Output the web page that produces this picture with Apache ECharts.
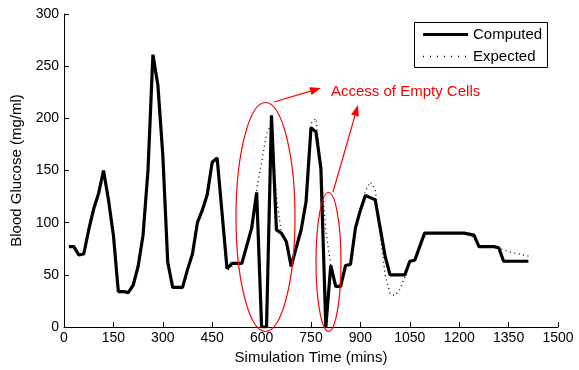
<!DOCTYPE html>
<html><head><meta charset="utf-8">
<script src="https://cdn.jsdelivr.net/npm/echarts@6/dist/echarts.min.js"></script>
<style>html,body{margin:0;padding:0;background:#fff}#c{width:579px;height:370px}</style>
</head><body><div id="c"></div>
<script>
const times = [15,30,45,60,75,90,105,120,135,150,165,180,195,210,225,240,255,270,285,300,
315,330,345,360,375,390,405,420,435,450,465,480,495,510,525,540,555,570,585,600,
615,630,645,660,675,690,705,720,735,750,765,780,795,810,825,840,855,870,885,900,
915,930,945,960,975,990,1005,1020,1035,1050,1065,1080,1095,1110,1125,1140,1155,1170,1185,1200,
1215,1230,1245,1260,1275,1290,1305,1320,1335,1350,1365,1380,1395,1410];
const computed = [77,77,69,70,93,113,128,150,122,88,34,34,33,40,58,88,150,261,232,165,
62,38,38,38,55,70,100,112,127,158,162,109,56,61,61,61,78,95,129,0,
0,203,93,90,82,58,76,93,120,191,187,152,0,59,39,39,59,60,95,112,
126,124,122,95,68,50,50,50,50,63,64,77,90,90,90,90,90,90,90,90,
90,89,88,77,77,77,77,76,63,63,63,63,63,63];
const expected = [77,77,69,70,93,113,128,150,122,88,34,34,33,40,58,88,150,261,232,165,
62,38,38,38,55,70,100,112,127,158,162,109,54,58,61,61,78,95,132,158,
185,195,125,90,82,58,76,93,120,195,200,155,92,60,40,39,59,60,95,112,
130,139,132,88,50,32,30,36,48,63,64,77,90,90,90,90,90,90,90,90,
90,88,86,77,77,77,77,76,74,72,71,70,69,68];
const seriesNames = ['Computed','Expected'];
const xTicks = {min:0, max:1500, interval:150};
const yTicks = {min:0, max:300, interval:50};

const font = 'Liberation Sans, Arial, sans-serif';
const chart = echarts.init(document.getElementById('c'), null, {renderer:'canvas'});

function arrow(x1,y1,x2,y2,len,hw){
  const dx=x2-x1, dy=y2-y1, L=Math.hypot(dx,dy), ux=dx/L, uy=dy/L;
  const bx=x2-ux*len, by=y2-uy*len, px=-uy*hw, py=ux*hw;
  return [
    {type:'line', shape:{x1:x1,y1:y1,x2:bx,y2:by}, style:{stroke:'#ff0000', lineWidth:1.2}, z:100},
    {type:'polygon', shape:{points:[[x2,y2],[bx+px,by+py],[bx-px,by-py]]}, style:{fill:'#ff0000'}, z:100}
  ];
}

chart.setOption({
  animation:false,
  grid:{left:64, right:21, top:14, bottom:43, containLabel:false},
  xAxis:{
    type:'value', min:xTicks.min, max:xTicks.max, interval:xTicks.interval,
    name:'Simulation Time (mins)', nameLocation:'middle', nameGap:22,
    nameTextStyle:{fontFamily:font, fontSize:15, color:'#000'},
    axisLine:{lineStyle:{color:'#000', width:1}},
    axisTick:{inside:true, length:5, lineStyle:{color:'#000'}},
    axisLabel:{fontFamily:font, fontSize:14, color:'#000', margin:4, formatter:v=>String(v)},
    splitLine:{show:false}
  },
  yAxis:{
    type:'value', min:yTicks.min, max:yTicks.max, interval:yTicks.interval,
    name:'Blood Glucose (mg/ml)', nameLocation:'middle', nameGap:28,
    nameTextStyle:{fontFamily:font, fontSize:15, color:'#000'},
    axisLine:{show:true, lineStyle:{color:'#000', width:1}},
    axisTick:{show:true, inside:true, length:5, lineStyle:{color:'#000'}},
    axisLabel:{fontFamily:font, fontSize:14, color:'#000', margin:5, formatter:v=>String(v)},
    splitLine:{show:false}
  },
  series:[
    {name:seriesNames[0], type:'line', data:times.map((t,i)=>[t,computed[i]]), symbol:'none',
     lineStyle:{color:'#000', width:3.2}, itemStyle:{color:'#000'}, z:3},
    {name:seriesNames[1], type:'line', data:times.map((t,i)=>[t,expected[i]]), symbol:'none',
     lineStyle:{color:'#000', width:1.3, type:[1,3.5]}, itemStyle:{color:'#000'}, z:2}
  ],
  graphic:[
    {type:'ellipse', shape:{cx:265.5, cy:217, rx:29.5, ry:114.5}, style:{fill:null, stroke:'#ff0000', lineWidth:1.2}, z:100},
    {type:'ellipse', shape:{cx:328.5, cy:262, rx:12.5, ry:69.5}, style:{fill:null, stroke:'#ff0000', lineWidth:1.2}, z:100},
    ...arrow(274,102,321,88,11,4),
    ...arrow(333,192,358,105,11,4),
    {type:'text', left:331, top:84, style:{text:'Access of Empty Cells', fill:'#ff0000', font:'15px '+font}, z:100},
    // legend box
    {type:'rect', shape:{x:414.5, y:22.5, width:133, height:45}, style:{fill:'#fff', stroke:'#000', lineWidth:1}, z:90},
    {type:'line', shape:{x1:423, y1:34.5, x2:468, y2:34.5}, style:{stroke:'#000', lineWidth:3}, z:91},
    {type:'line', shape:{x1:423, y1:56.5, x2:468, y2:56.5}, style:{stroke:'#000', lineWidth:1.3, lineDash:[1,6]}, z:91},
    {type:'text', left:473, top:27, style:{text:seriesNames[0], fill:'#000', font:'15px '+font}, z:91},
    {type:'text', left:473, top:49, style:{text:seriesNames[1], fill:'#000', font:'15px '+font}, z:91}
  ]
});
</script></body></html>
